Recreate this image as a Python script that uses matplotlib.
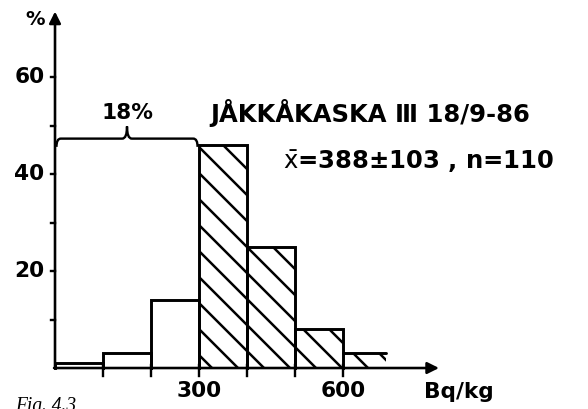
import matplotlib.pyplot as plt
from matplotlib.path import Path
from matplotlib.patches import PathPatch

# activity distribution, percent of samples per 100 Bq/kg class
bin_edges = [0, 100, 200, 300, 400, 500, 600, 690]
percent = [1, 3, 14, 46, 25, 8, 3]
hatched = [False, False, False, True, True, True, True]
x_ticks = [100, 200, 300, 400, 500, 600]
x_tick_labels = {300: '300', 600: '600'}
y_ticks = [10, 20, 30, 40, 50, 60]
y_tick_labels = {20: '20', 40: '40', 60: '60'}
share_below = '18%'
site_label = 'JÅKKÅKASKA Ⅲ 18/9-86'
stats_label = r'$\bar{\mathrm{x}}$=388±103 , n=110'

DPI = 156
plt.rcParams['hatch.linewidth'] = 1.15
plt.rcParams['font.family'] = 'DejaVu Sans'

fig = plt.figure(figsize=(588 / DPI, 409 / DPI), dpi=DPI)
ax = fig.add_axes([0, 0, 1, 1])
ax.set_xlim(-114.6, 1110.4)
ax.set_ylim(-8.45, 75.88)
ax.axis('off')

lw = 1.35
for i, h in enumerate(percent):
    left, right = bin_edges[i], bin_edges[i + 1]
    ax.bar(left, h, width=right - left, align='edge', fill=False,
           edgecolor='black', linewidth=0, hatch='\\\\' if hatched[i] else None)
    # outline; the last class is left open on the right
    if i < len(percent) - 1:
        ax.plot([left, left, right, right], [0, h, h, 0], color='black', lw=lw,
                solid_joinstyle='miter')
    else:
        ax.plot([left, right], [h, h], color='black', lw=lw, solid_capstyle='round')

# axes with arrow heads
arrow = dict(arrowstyle='-|>', lw=1.2, color='black', mutation_scale=11,
             shrinkA=0, shrinkB=0)
ax.annotate('', xy=(0, 73.5), xytext=(0, 0), arrowprops=arrow)
ax.annotate('', xy=(800, 0), xytext=(-2, 0), arrowprops=arrow)

for t in y_ticks:
    ax.plot([-9, 0], [t, t], color='black', lw=1.1)
    if t in y_tick_labels:
        ax.text(-22, t, y_tick_labels[t], ha='right', va='center',
                fontsize=10, fontweight='bold')
for t in x_ticks:
    ax.plot([t, t], [-1.6, 0.6], color='black', lw=1.1)
    if t in x_tick_labels:
        ax.text(t, -4.7, x_tick_labels[t], ha='center', va='center',
                fontsize=10, fontweight='bold')

ax.text(-42, 71.8, '%', ha='center', va='center', fontsize=9, fontweight='bold')
ax.text(768, -5.0, 'Bq/kg', ha='left', va='center', fontsize=10, fontweight='bold')

# curly brace over the classes below 300 Bq/kg
x0, x1 = bin_edges[0] + 3, bin_edges[3] - 3
xm = (x0 + x1) / 2
yb, ye, yp = 47.3, 45.6, 49.8
verts = [(x0, ye), (x0, yb), (x0 + 9, yb),
         (xm - 10, yb), (xm, yb), (xm, yp),
         (xm, yb), (xm + 10, yb),
         (x1 - 9, yb), (x1, yb), (x1, ye)]
codes = [Path.MOVETO, Path.CURVE3, Path.CURVE3,
         Path.LINETO, Path.CURVE3, Path.CURVE3,
         Path.CURVE3, Path.CURVE3,
         Path.LINETO, Path.CURVE3, Path.CURVE3]
ax.add_patch(PathPatch(Path(verts, codes), fill=False, lw=1.1, color='black'))
ax.text(xm, 52.6, share_below, ha='center', va='center', fontsize=10,
        fontweight='bold')

ax.text(323, 52.6, site_label, ha='left', va='center', fontsize=11.2,
        fontweight='bold')
ax.text(475, 42.5, stats_label, ha='left', va='center', fontsize=11.2,
        fontweight='bold')

ax.text(-83, -6.0, 'Fig. 4.3', ha='left', va='top', fontsize=9,
        family='Liberation Serif', style='italic')

fig.savefig('out.png', dpi=DPI)
